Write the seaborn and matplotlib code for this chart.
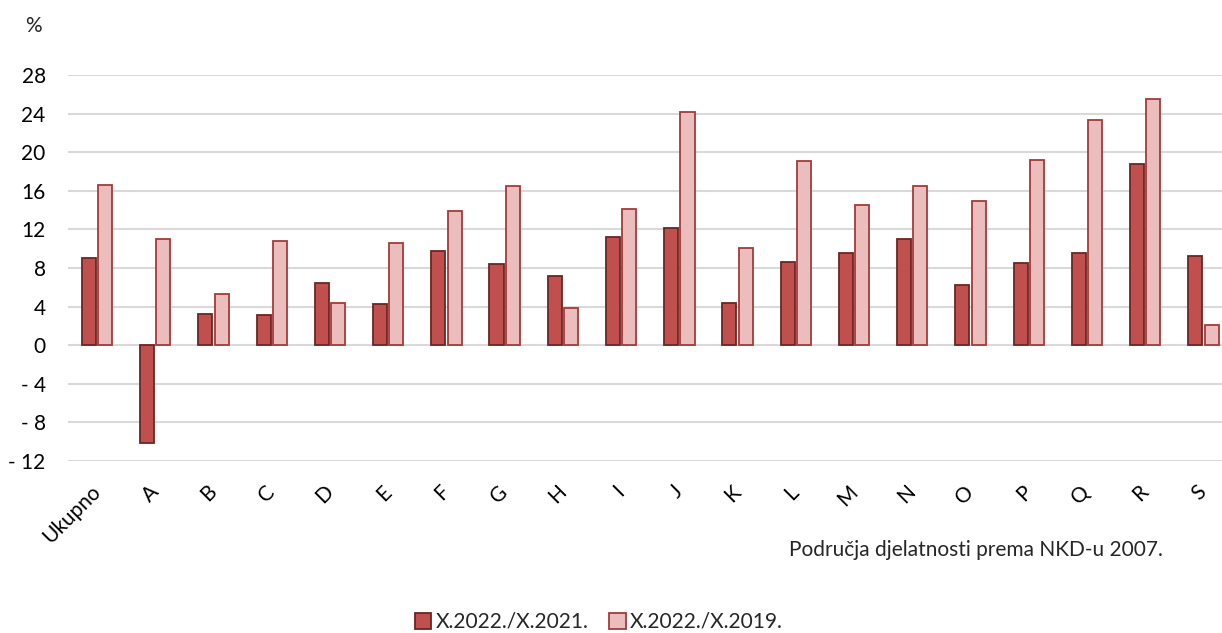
import pandas as pd
import matplotlib.pyplot as plt
import seaborn as sns
from matplotlib.patches import Patch

categories = ['Ukupno', 'A', 'B', 'C', 'D', 'E', 'F', 'G', 'H', 'I',
              'J', 'K', 'L', 'M', 'N', 'O', 'P', 'Q', 'R', 'S']
s_2021 = [9.0, -10.1, 3.2, 3.1, 6.4, 4.3, 9.8, 8.4, 7.2, 11.2,
          12.1, 4.4, 8.6, 9.6, 11.0, 6.2, 8.5, 9.6, 18.8, 9.2]
s_2019 = [16.6, 11.0, 5.3, 10.8, 4.4, 10.6, 13.9, 16.5, 3.9, 14.1,
          24.2, 10.1, 19.1, 14.5, 16.5, 14.9, 19.2, 23.3, 25.5, 2.1]
series = ['X.2022./X.2021.', 'X.2022./X.2019.']
yticks = [-12, -8, -4, 0, 4, 8, 12, 16, 20, 24, 28]

df = pd.DataFrame({
    'cat': categories * 2,
    'val': s_2021 + s_2019,
    'ser': [series[0]] * len(categories) + [series[1]] * len(categories),
})

sns.set_style('white')
plt.rcParams['font.family'] = ['Lato', 'DejaVu Sans']

fills = ['#C0504D', '#EBBDBD']
edges = ['#6B2523', '#A33B3A']
fs = 15

fig = plt.figure(figsize=(12.22, 6.33), dpi=100)
ax = fig.add_axes([0.0556, 0.2717, 0.953, 0.6098])

sns.barplot(data=df, x='cat', y='val', hue='ser', order=categories,
            hue_order=series, palette=fills, saturation=1, width=0.56, gap=0.14,
            legend=False, ax=ax)
for cont, ec in zip(ax.containers, edges):
    for p in cont:
        p.set_edgecolor(ec)
        p.set_linewidth(1.3)

ax.set_xlim(-0.5, len(categories) - 0.5)
ax.set_ylim(-12, 28)
ax.set_yticks(yticks)
ax.set_yticklabels([f'- {abs(t)}' if t < 0 else str(t) for t in yticks])
ax.yaxis.grid(True, color='#D9D9D9', linewidth=1.5)
ax.set_axisbelow(True)
for s in ax.spines.values():
    s.set_visible(False)
ax.set_xlabel('')
ax.set_ylabel('')
ax.tick_params(axis='y', length=0, pad=16, labelsize=fs, labelcolor='#000000')
ax.tick_params(axis='x', length=0, pad=20, labelsize=fs, labelcolor='#000000')
for lab in ax.get_xticklabels():
    lab.set_rotation(45)
    lab.set_ha('right')
    lab.set_va('center')
    lab.set_rotation_mode('anchor')

fig.text(33 / 1222, 1 - 26 / 633, '%', fontsize=fs, ha='center', va='center')
fig.text(1163 / 1222, 1 - 550 / 633, 'Područja djelatnosti prema NKD-u 2007.',
         fontsize=fs, ha='right', va='center')

handles = [Patch(facecolor=f, edgecolor=e, linewidth=1.3) for f, e in zip(fills, edges)]
fig.legend(handles, series, loc='center', bbox_to_anchor=(0.49, 1 - 622 / 633),
           ncol=2, frameon=False, fontsize=fs, handlelength=0.8, handleheight=0.8,
           handletextpad=0.2, columnspacing=1.0)

fig.savefig('out.png', dpi=100)
